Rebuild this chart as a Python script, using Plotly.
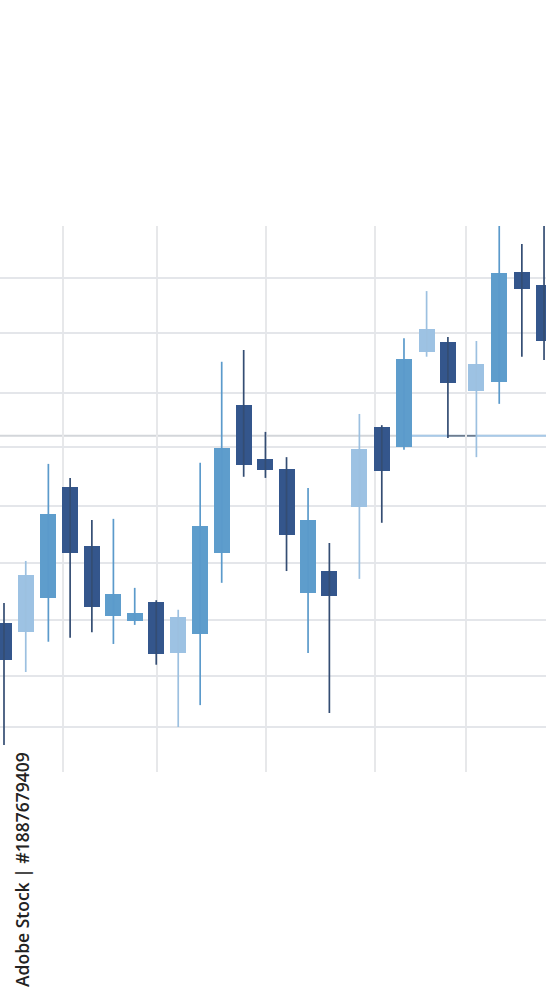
import plotly.graph_objects as go

# ---- data ----
sessions = [0, 1, 2.04, 3.04, 4.04, 5.03, 6.01, 7.0, 8.01, 9.02, 10.01, 11.02, 12.02,
            12.99, 13.98, 14.96, 16.34, 17.37, 18.39, 19.43, 20.41, 21.72, 22.77, 23.81, 24.83]
opens  = [11.85, 11.69, 12.30, 14.28, 13.23, 11.98, 11.89, 12.23, 11.32, 11.66, 13.10, 15.74, 14.78,
          14.60, 12.39, 12.78, 13.92, 15.35, 14.99, 16.68, 16.86, 15.99, 16.15, 18.11, 17.88]
highs  = [12.21, 12.96, 14.69, 14.44, 13.69, 13.71, 12.48, 12.26, 12.09, 14.71, 16.51, 16.72, 15.26,
          14.81, 14.26, 13.28, 15.58, 15.38, 16.93, 17.77, 16.95, 16.88, 19.20, 18.61, 19.20]
lows   = [9.68, 10.98, 11.52, 11.59, 11.69, 11.48, 11.82, 11.11, 10.00, 10.39, 12.57, 14.46, 14.44,
          12.78, 11.32, 10.25, 12.64, 13.64, 14.94, 16.60, 15.15, 14.81, 15.76, 16.60, 16.54]
closes = [11.19, 12.71, 13.80, 13.10, 12.14, 12.37, 12.03, 11.30, 11.96, 13.58, 14.97, 14.67, 14.58,
          13.42, 13.69, 12.34, 14.96, 14.56, 16.56, 17.09, 16.13, 16.47, 18.09, 17.81, 16.88]
shade  = ["dark", "light", "mid", "dark", "dark", "mid", "mid", "dark", "light", "mid", "mid", "dark", "dark",
          "dark", "mid", "dark", "light", "dark", "mid", "light", "dark", "light", "mid", "dark", "dark"]
grid_levels = [10.0, 10.91, 11.91, 12.92, 13.94, 14.99, 15.95, 17.02, 18.0]
grid_sessions = [2.70, 7.02, 12.03, 17.04, 21.23]
ref_level = 15.19
watermark = "Adobe Stock | #1887679409"

# ---- styles ----
body_col = {"dark": "#34568c", "mid": "#5e9dcc", "light": "#9dc2e3"}
wick_col = {"dark": "#344d73", "mid": "#5b9acb", "light": "#9cc0e0"}

fig = go.Figure()

# wicks
for key in ["light", "mid", "dark"]:
    wx, wy = [], []
    for x, h, l, s in zip(sessions, highs, lows, shade):
        if s == key:
            wx += [x, x, None]
            wy += [l, h, None]
    fig.add_trace(go.Scatter(x=wx, y=wy, mode="lines", line=dict(color=wick_col[key], width=1.7),
                             hoverinfo="skip", showlegend=False))

# bodies
base = [min(o, c) for o, c in zip(opens, closes)]
height = [abs(c - o) for o, c in zip(opens, closes)]
fig.add_trace(go.Bar(x=sessions, y=height, base=base, width=0.736,
                     marker=dict(color=[body_col[s] for s in shade], line=dict(width=0)),
                     showlegend=False))

x_lo, x_hi = -0.184, 24.92
y_lo, y_hi = 9.198, 18.93

fig.add_shape(type="line", xref="paper", yref="y", x0=0, x1=1, y0=ref_level, y1=ref_level,
              line=dict(color="#d3d6da", width=2), layer="below")
fig.add_shape(type="line", xref="x", yref="y", x0=sessions[18], x1=x_hi, y0=ref_level, y1=ref_level,
              line=dict(color="#a8cae8", width=2), layer="below")
fig.add_shape(type="line", xref="x", yref="y", x0=sessions[20], x1=sessions[21], y0=ref_level, y1=ref_level,
              line=dict(color="#6b7686", width=1.5), layer="below")

fig.add_annotation(text=watermark, textangle=-90, xref="paper", yref="paper",
                   x=22 / 546, y=-0.1795, xanchor="center", yanchor="middle", showarrow=False,
                   font=dict(family="Open Sans", size=17.5, color="#222222", weight=600))

fig.update_layout(
    width=546, height=1000,
    margin=dict(l=0, r=0, t=226, b=228, pad=0),
    paper_bgcolor="white", plot_bgcolor="white",
    barmode="overlay", bargap=0,
    xaxis=dict(range=[x_lo, x_hi], tickvals=grid_sessions, showticklabels=False, ticks="",
               showgrid=True, gridcolor="#e7e8ea", gridwidth=2, zeroline=False, showline=False),
    yaxis=dict(range=[y_lo, y_hi], tickvals=grid_levels, showticklabels=False, ticks="",
               showgrid=True, gridcolor="#e4e6ea", gridwidth=2, zeroline=False, showline=False),
)

fig.write_html("out.html", config={"displayModeBar": False},
               post_script="document.body.style.margin='0';document.body.style.overflow='hidden';")
